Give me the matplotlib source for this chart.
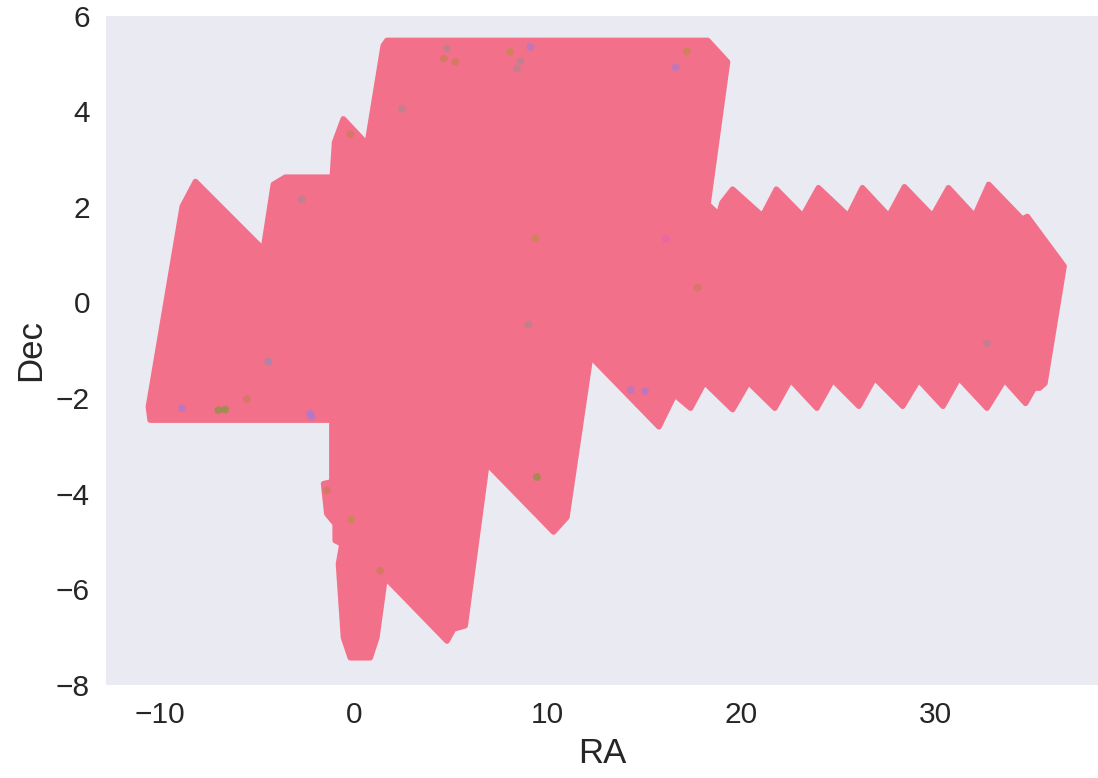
import numpy as np
import matplotlib
matplotlib.use("Agg")
import matplotlib.pyplot as plt
import seaborn as sns

# footprint outline of the main (dense) field
footprint_ra = [-10.52, -10.61, -8.86, -8.18, -4.68, -4.16, -3.54, -1.12, -1.00, -0.55,
                0.68, 1.51, 1.70, 18.26, 19.28, 18.27, 18.82, 19.00, 19.54, 21.08,
                21.80, 23.16, 23.97, 25.51, 26.24, 27.60, 28.41, 29.86, 30.68, 32.03,
                32.76, 34.50, 34.75, 36.65, 35.66, 35.38, 35.11, 34.66, 33.57, 32.67,
                31.22, 30.40, 29.14, 28.32, 26.87, 26.06, 24.71, 23.89, 22.53, 21.72,
                20.36, 19.54, 18.09, 17.37, 16.55, 15.74, 12.21, 10.99, 10.30, 6.86,
                5.74, 5.14, 4.80, 1.61, 1.18, 0.84, -0.19, -0.54, -0.80, -0.62,
                -0.97, -0.97, -1.40, -1.57, -1.14, -1.14]
footprint_dec = [-2.46, -2.18, 2.01, 2.53, 1.11, 2.47, 2.62, 2.62, 3.35, 3.84,
                 3.31, 5.37, 5.48, 5.48, 5.03, 2.05, 1.84, 2.09, 2.37, 1.81,
                 2.37, 1.81, 2.40, 1.81, 2.40, 1.81, 2.42, 1.81, 2.40, 1.81,
                 2.47, 1.74, 1.80, 0.76, -1.69, -1.79, -1.79, -2.11, -1.62, -2.21,
                 -1.58, -2.17, -1.62, -2.17, -1.58, -2.17, -1.62, -2.21, -1.62, -2.21,
                 -1.67, -2.24, -1.67, -2.21, -1.93, -2.60, -1.13, -4.49, -4.80, -3.37,
                 -6.76, -6.83, -7.08, -5.75, -7.01, -7.43, -7.43, -7.01, -5.47, -5.05,
                 -4.98, -4.63, -4.42, -3.79, -3.75, -2.46]

# sparse objects of the other classes
other_ra = [9.44, 9.36, -1.40, -0.14, 1.35, -2.26, -4.41, -6.65, -5.53, -8.88,
            -2.17, -2.69, -0.19, 4.80, 4.63, 5.23, 8.06, 9.10, 8.41, 17.18,
            16.61, 2.47, 16.10, 17.73, 14.29, 15.02, 32.67, 9.00, -7.0, 8.6]
other_dec = [-3.65, 1.34, -3.93, -4.54, -5.61, -2.32, -1.24, -2.24, -2.02, -2.21,
             -2.39, 2.16, 3.52, 5.31, 5.10, 5.03, 5.24, 5.34, 4.89, 5.25,
             4.92, 4.05, 1.33, 0.31, -1.83, -1.85, -0.85, -0.46, -2.25, 5.05]
other_class = [2, 1, 0, 1, 0, 4, 3, 2, 0, 4,
               4, 5, 0, 5, 0, 0, 1, 4, 5, 1,
               4, 5, 6, 0, 4, 4, 5, 5, 2, 5]

other_colors = ['#c0804a', '#b89038', '#6a9f2b', '#7f93b8', '#9a7ce0', '#a08a90', '#e060c0']

sns.set_style("darkgrid")
plt.rcParams['font.family'] = ['Liberation Sans', 'DejaVu Sans']

fig = plt.figure(figsize=(10.98, 7.78), dpi=100)
ax = fig.add_axes([0.0965, 0.1195, 0.9035, 0.8605])
ax.grid(False)

ax.fill(footprint_ra, footprint_dec, color='#f3708a', edgecolor='#f3708a',
        linewidth=4, joinstyle='round', zorder=2)

cols = [other_colors[c] for c in other_class]
ax.scatter(other_ra, other_dec, s=32, c=cols, alpha=0.55, linewidths=0, zorder=3)

ax.set_xlim(-12.8, 38.4)
ax.set_ylim(-8, 6)
ax.set_xticks([-10, 0, 10, 20, 30])
ax.set_yticks([-8, -6, -4, -2, 0, 2, 4, 6])
ax.tick_params(labelsize=21.5, colors='.15', pad=8)
ax.set_xlabel('RA', fontsize=25, color='.15', labelpad=6)
ax.set_ylabel('Dec', fontsize=25, color='.15', labelpad=6)
for s in ax.spines.values():
    s.set_visible(False)

fig.savefig('out.png', dpi=100)
